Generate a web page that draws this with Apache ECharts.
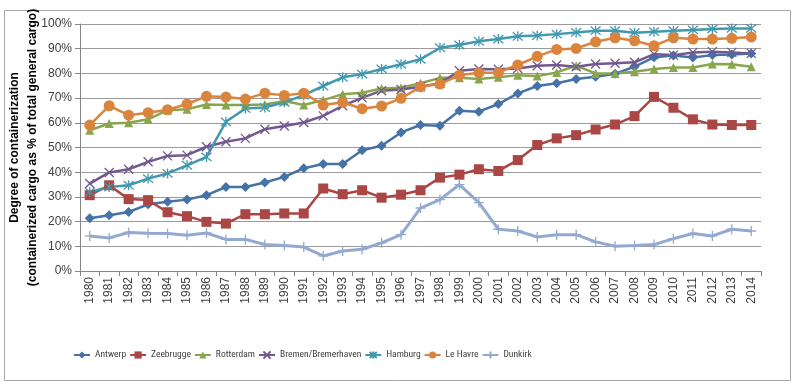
<!DOCTYPE html>
<html>
<head>
<meta charset="utf-8">
<script src="https://cdn.jsdelivr.net/npm/echarts@6/dist/echarts.min.js"></script>
<style>html,body{margin:0;padding:0;background:#fff;}#c{width:800px;height:392px;}</style>
</head>
<body>
<div id="c"></div>
<script>
const years = ['1980','1981','1982','1983','1984','1985','1986','1987','1988','1989','1990','1991','1992','1993','1994','1995','1996','1997','1998','1999','2000','2001','2002','2003','2004','2005','2006','2007','2008','2009','2010','2011','2012','2013','2014'];
const antwerp = [21.4,22.6,23.9,27.0,28.0,28.9,30.7,34.0,34.0,35.8,38.1,41.6,43.3,43.3,48.9,50.7,56.1,59.1,58.8,64.9,64.5,67.6,71.9,74.9,76.0,77.7,78.6,79.9,82.7,86.5,87.2,86.4,87.4,87.7,88.1];
const zeebrugge = [30.7,34.7,29.1,28.7,23.8,22.2,19.9,19.2,23.0,23.0,23.3,23.3,33.4,31.1,32.7,29.7,30.9,32.7,37.8,39.0,41.2,40.5,44.9,51.0,53.7,55.0,57.3,59.3,62.7,70.5,66.1,61.4,59.3,59.1,59.1];
const rotterdam = [57.0,59.7,60.0,61.4,65.1,65.5,67.4,67.2,67.2,67.4,68.8,67.2,69.2,71.6,72.2,73.9,74.2,76.0,78.2,78.2,77.7,78.4,79.3,78.9,80.4,83.1,80.0,80.0,80.7,81.8,82.4,82.4,83.8,83.7,82.7];
const bremen = [35.4,39.9,41.2,44.2,46.6,46.9,50.3,52.3,53.7,57.4,58.7,60.1,62.8,66.9,70.1,73.0,73.5,74.6,76.0,81.1,81.8,81.7,82.0,83.1,83.4,82.7,83.8,84.1,84.5,87.8,87.4,88.5,88.8,88.5,88.1];
const hamburg = [32.0,34.0,34.7,37.4,39.5,42.8,46.2,60.4,65.8,66.2,68.3,71.2,74.9,78.4,79.7,81.8,83.7,85.7,90.4,91.5,93.0,93.9,95.0,95.3,95.9,96.6,97.3,97.3,96.5,96.9,97.3,97.6,98.0,98.2,98.2];
const leHavre = [59.1,66.9,63.1,64.1,65.3,67.6,70.7,70.4,69.6,72.0,71.1,72.0,67.2,68.3,65.7,66.8,69.9,74.6,75.7,79.3,80.3,80.4,83.4,86.9,89.7,90.1,92.8,94.4,93.2,91.2,94.4,93.9,93.9,94.2,94.7];
const dunkirk = [14.2,13.4,15.6,15.3,15.2,14.5,15.4,12.8,12.8,10.7,10.3,9.7,6.1,8.1,8.8,11.4,14.7,25.5,28.9,35.0,27.7,16.9,16.2,13.8,14.7,14.7,11.8,10.0,10.3,10.7,13.1,15.2,14.2,16.9,16.2];
const seriesNames = ['Antwerp','Zeebrugge','Rotterdam','Bremen/Bremerhaven','Hamburg','Le Havre','Dunkirk'];
const seriesData = [antwerp, zeebrugge, rotterdam, bremen, hamburg, leHavre, dunkirk];
const yTicks = [0,10,20,30,40,50,60,70,80,90,100];

const colors = ['#4572A7','#AA4643','#89A54E','#71588F','#4198AF','#DB843D','#93A9CF'];
const symbols = ['diamond','rect','triangle','path://M0,0L10,10M10,0L0,10','path://M0,0L10,10M10,0L0,10M5,-1L5,11','circle','path://M5,0L5,10M0,5L10,5'];
const sizes = [10,10,9,9,10,11,10];
const lineWidths = [2.5,2.5,2.5,2.5,2.5,2.5,3];

const chart = echarts.init(document.getElementById('c'), null, {renderer:'canvas'});
const narrow = "'Roboto Condensed','Liberation Sans Narrow','Arial Narrow','DejaVu Sans Condensed',sans-serif";
chart.setOption({
  animation:false,
  backgroundColor:'#fff',
  graphic:[{type:'rect', shape:{x:4.5,y:10.5,width:786,height:370}, style:{fill:'none',stroke:'#a6a6a6',lineWidth:1}, silent:true}],
  grid:{left:80,right:39,top:24,bottom:121,containLabel:false,outerBoundsMode:'none'},
  legend:{
    data:seriesNames, left:68, top:345, itemWidth:16, itemHeight:9, itemGap:3,
    textStyle:{fontFamily:narrow,fontSize:9.5,color:'#404040'}
  },
  xAxis:{
    type:'category', data:years, boundaryGap:true,
    axisLine:{lineStyle:{color:'#868686',width:1}},
    axisTick:{show:true,length:5,lineStyle:{color:'#868686'}},
    axisLabel:{rotate:90,interval:0,margin:6,fontFamily:'Liberation Sans',fontSize:12,color:'#404040'}
  },
  yAxis:{
    type:'value', min:0, max:100, interval:10,
    name:'Degree of containerization\n(containerized cargo as % of total general cargo)',
    nameLocation:'middle', nameGap:38, nameRotate:90, nameMoveOverlap:false,
    nameTextStyle:{fontFamily:'Liberation Sans',fontSize:12,fontWeight:'bold',color:'#000',lineHeight:18},
    axisLine:{show:true,lineStyle:{color:'#868686'}},
    axisTick:{show:true,length:5,lineStyle:{color:'#868686'}},
    splitLine:{lineStyle:{color:'#9a9a9a',width:1}},
    axisLabel:{margin:8,fontFamily:'Liberation Sans',fontSize:12,color:'#404040',formatter:v=>v+'%'}
  },
  series: seriesNames.map((n,i)=>({
    name:n, type:'line', data:seriesData[i],
    symbol:symbols[i], symbolSize:sizes[i], showAllSymbol:true,
    lineStyle:{color:colors[i],width:lineWidths[i]},
    itemStyle:{color:colors[i],borderColor:colors[i],borderWidth:i===3||i===4||i===6?1.3:0}
  }))
});
</script>
</body>
</html>
